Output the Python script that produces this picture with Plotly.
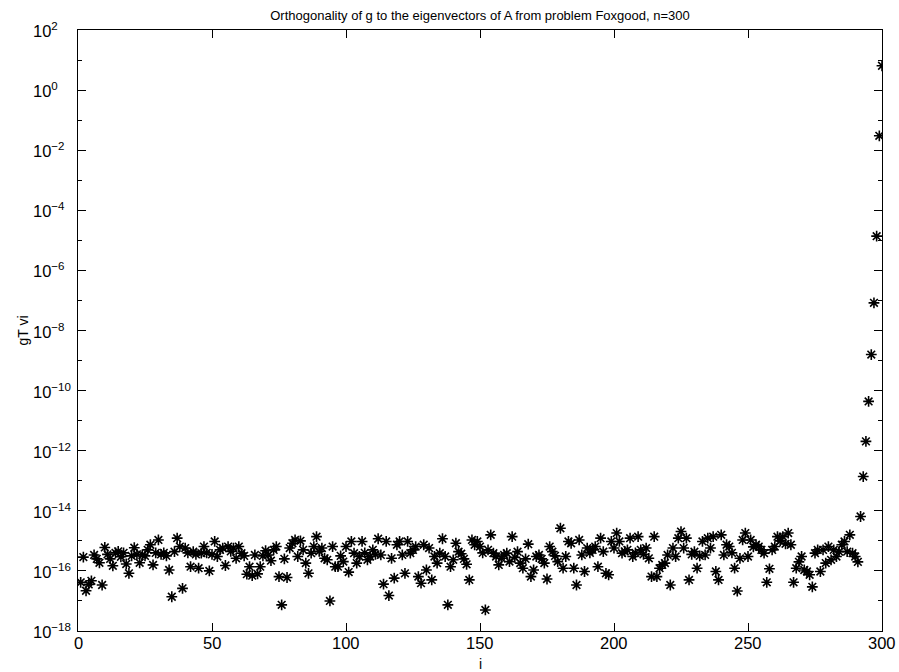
import numpy as np
import plotly.graph_objects as go

# index of the eigenvector
idx = list(range(1, 301))

# log10 |g^T v_i| for i = 1..300
log10_gtv = [
    -16.38, -15.54, -16.66, -16.45, -16.33, -15.47, -15.60, -15.73, -16.47, -15.22,
    -15.45, -15.60, -15.83, -15.40, -15.35, -15.53, -15.40, -15.77, -16.08, -15.50,
    -15.23, -15.45, -15.73, -15.47, -15.50, -15.30, -15.13, -15.80, -15.40, -14.97,
    -15.45, -15.40, -15.50, -15.97, -16.86, -15.36, -14.91, -15.19, -16.58, -15.24,
    -15.40, -15.86, -15.36, -15.45, -15.91, -15.41, -15.19, -15.40, -16.00, -15.45,
    -15.02, -15.52, -15.30, -15.24, -15.82, -15.19, -15.35, -15.24, -15.58, -15.19,
    -15.41, -15.50, -16.11, -15.86, -16.16, -15.47, -16.10, -15.86, -15.50, -15.33,
    -15.47, -15.66, -15.30, -15.19, -16.19, -17.13, -15.60, -16.22, -15.24, -15.08,
    -14.97, -15.52, -15.00, -15.30, -15.74, -16.08, -15.41, -15.19, -14.86, -15.35,
    -15.24, -15.58, -15.63, -17.00, -15.19, -15.86, -15.86, -15.50, -15.69, -15.19,
    -16.04, -15.02, -15.41, -15.74, -15.52, -15.02, -15.40, -15.63, -15.52, -15.30,
    -15.45, -14.93, -15.47, -16.44, -15.02, -16.82, -15.58, -16.24, -15.13, -15.02,
    -15.47, -16.08, -15.02, -15.41, -15.30, -15.19, -16.19, -16.41, -15.13, -15.97,
    -15.24, -16.30, -15.52, -15.74, -15.41, -14.93, -15.52, -17.13, -15.86, -15.63,
    -15.08, -15.36, -15.43, -15.60, -15.78, -16.30, -14.97, -15.13, -15.02, -15.19,
    -15.40, -17.30, -15.30, -14.80, -15.41, -15.52, -15.80, -15.58, -15.47, -15.41,
    -15.69, -14.86, -15.55, -15.36, -15.74, -15.91, -15.60, -15.11, -16.19, -15.97,
    -15.52, -15.47, -15.60, -15.74, -16.27, -15.19, -15.36, -15.50, -15.69, -14.58,
    -15.91, -15.52, -15.02, -15.08, -15.91, -16.47, -14.97, -15.47, -16.02, -15.24,
    -15.40, -15.30, -15.19, -15.86, -14.91, -15.36, -16.08, -16.13, -15.02, -15.24,
    -14.74, -15.02, -15.41, -15.35, -15.30, -14.91, -15.52, -15.40, -14.86, -15.30,
    -15.45, -15.24, -15.58, -16.19, -14.86, -16.19, -15.91, -15.80, -15.74, -15.47,
    -16.47, -15.24, -15.52, -14.91, -14.69, -15.24, -14.91, -16.30, -15.45, -15.36,
    -15.91, -15.50, -15.02, -15.47, -14.91, -15.24, -14.86, -16.02, -16.30, -14.80,
    -15.47, -15.13, -15.19, -15.40, -15.91, -16.67, -15.58, -14.97, -14.74, -15.52,
    -14.97, -15.20, -15.13, -15.19, -15.30, -15.41, -16.38, -15.93, -15.30, -15.19,
    -14.86, -15.00, -14.86, -15.10, -14.74, -15.13, -16.38, -15.91, -15.70, -15.52,
    -15.97, -16.02, -16.13, -16.53, -15.41, -15.30, -16.02, -15.30, -15.74, -15.19,
    -15.63, -15.30, -15.52, -15.36, -15.13, -15.02, -15.36, -14.80, -15.41, -15.52,
    -15.70, -14.19, -12.86, -11.69, -10.36, -8.80, -7.08, -4.86, -1.52, 0.81,
]

x_ticks = [0, 50, 100, 150, 200, 250, 300]
y_major_exp = [-18, -16, -14, -12, -10, -8, -6, -4, -2, 0, 2]
y_minor_exp = [-17, -15, -13, -11, -9, -7, -5, -3, -1, 1]

gtv = 10.0 ** np.array(log10_gtv)

W, H = 899, 672
ML, MR, MT, MB = 78, 17, 30, 41
plot_w = W - ML - MR
plot_h = H - MT - MB
x_axis_px = H - MB  # pixel row of the bottom axis line


def paper_y(px):
    """Convert a pixel row to paper y (0 = bottom axis, 1 = top axis)."""
    return (x_axis_px - px) / plot_h


def paper_x(px):
    """Convert a pixel column to paper x (0 = left axis, 1 = right axis)."""
    return (px - ML) / plot_w


fig = go.Figure(
    go.Scatter(
        x=idx,
        y=gtv,
        mode="markers",
        marker=dict(
            symbol="asterisk-open",
            size=9,
            color="black",
            line=dict(color="black", width=1.6),
        ),
        showlegend=False,
    )
)

font_main = "Liberation Sans, Arial, Helvetica, sans-serif"

fig.update_layout(
    width=W,
    height=H,
    margin=dict(l=ML, r=MR, t=MT, b=MB),
    paper_bgcolor="white",
    plot_bgcolor="white",
    font=dict(family=font_main, color="black", size=16),
    title=dict(
        text="Orthogonality of g to the eigenvectors of A from problem Foxgood, n=300",
        font=dict(size=13, family=font_main, color="black"),
        x=0.5,
        xref="paper",
        xanchor="center",
        y=1 - 15 / H,
        yref="container",
        yanchor="middle",
    ),
)

fig.update_xaxes(
    range=[0, 300],
    tickmode="array",
    tickvals=x_ticks,
    ticks="inside",
    ticklen=8,
    tickwidth=1,
    tickcolor="black",
    showticklabels=False,
    showline=True,
    linecolor="black",
    linewidth=1,
    mirror="ticks",
    showgrid=False,
    zeroline=False,
)

fig.update_yaxes(
    type="log",
    range=[-18, 2],
    tickmode="array",
    tickvals=[10.0 ** e for e in y_major_exp],
    ticks="inside",
    ticklen=8,
    tickwidth=1,
    tickcolor="black",
    showticklabels=False,
    minor=dict(
        tickmode="array",
        tickvals=[10.0 ** e for e in y_minor_exp],
        ticks="inside",
        ticklen=4,
        tickwidth=1,
        tickcolor="black",
        showgrid=False,
    ),
    showline=True,
    linecolor="black",
    linewidth=1,
    mirror="ticks",
    showgrid=False,
    zeroline=False,
)

# x tick labels
for v in x_ticks:
    fig.add_annotation(
        x=v,
        xref="x",
        xanchor="center",
        y=paper_y(643),
        yref="paper",
        yanchor="middle",
        text=str(v),
        showarrow=False,
        font=dict(size=16.5),
    )

# decade labels: the "10" base sits in a fixed column, the exponent hangs right
for e in y_major_exp:
    fig.add_annotation(
        x=paper_x(31),
        xref="paper",
        xanchor="left",
        y=e,
        yref="y",
        yanchor="middle",
        text=f"10<sup>{str(e).replace('-', '−')}</sup>",
        showarrow=False,
        font=dict(size=16.5),
    )

# axis titles
fig.add_annotation(
    x=paper_x(22),
    xref="paper",
    xanchor="center",
    y=0.5,
    yref="paper",
    yanchor="middle",
    text="gT vi",
    textangle=-90,
    showarrow=False,
    font=dict(size=14),
)
fig.add_annotation(
    x=0.5,
    xref="paper",
    xanchor="center",
    y=paper_y(664),
    yref="paper",
    yanchor="middle",
    text="i",
    showarrow=False,
    font=dict(size=14),
)

fig.write_html("out.html")
